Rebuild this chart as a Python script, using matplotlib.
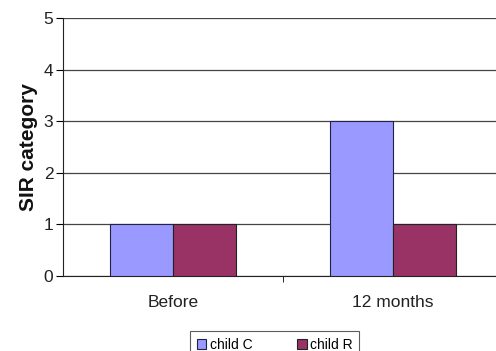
import matplotlib.pyplot as plt
import numpy as np

plt.rcParams['font.family'] = ['Liberation Sans', 'DejaVu Sans']

# SIR category per child, before and after 12 months
periods = ['Before', '12 months']
child_c = [1, 3]
child_r = [1, 1]
series_names = ['child C', 'child R']

fig = plt.figure(figsize=(4.96, 3.51), dpi=100)
ax = fig.add_axes([0.127, 0.2137, 0.887, 0.735])

x = np.arange(len(periods))
w = 0.286
ax.bar(x - w / 2, child_c, w, color='#9999ff', edgecolor='#222244', linewidth=0.8,
       label=series_names[0], zorder=3)
ax.bar(x + w / 2, child_r, w, color='#993366', edgecolor='#222222', linewidth=0.8,
       label=series_names[1], zorder=3)

ax.set_xlim(-0.5, 1.5)
ax.set_ylim(0, 5)
ax.set_yticks(range(6))
ax.yaxis.grid(True, color='#444444', linewidth=0.9, zorder=0)
ax.set_xticks(x)
ax.set_xticklabels(periods, fontsize=12.5, color='#222222')
ax.tick_params(axis='x', length=0, pad=14)
ax.set_xticks([0.5], minor=True)
ax.tick_params(axis='x', which='minor', length=4, direction='out')
ax.tick_params(axis='y', labelsize=12.5, labelcolor='#222222', length=5,
               direction='out', pad=2)

for side in ['top', 'right']:
    ax.spines[side].set_visible(False)
ax.spines['left'].set_color('#222222')
ax.spines['bottom'].set_color('#222222')

ax.set_ylabel('SIR category', fontsize=15, fontweight='bold', labelpad=4,
              color='#111111')

leg = fig.legend(loc='upper center', bbox_to_anchor=(0.554, 0.076), ncol=2,
                 frameon=True, fancybox=False, edgecolor='#333333', fontsize=10,
                 handlelength=0.7, handleheight=0.7, handletextpad=0.25,
                 columnspacing=3.2, borderpad=0.45)
leg.get_frame().set_linewidth(0.8)

fig.savefig('out.png', dpi=100)
